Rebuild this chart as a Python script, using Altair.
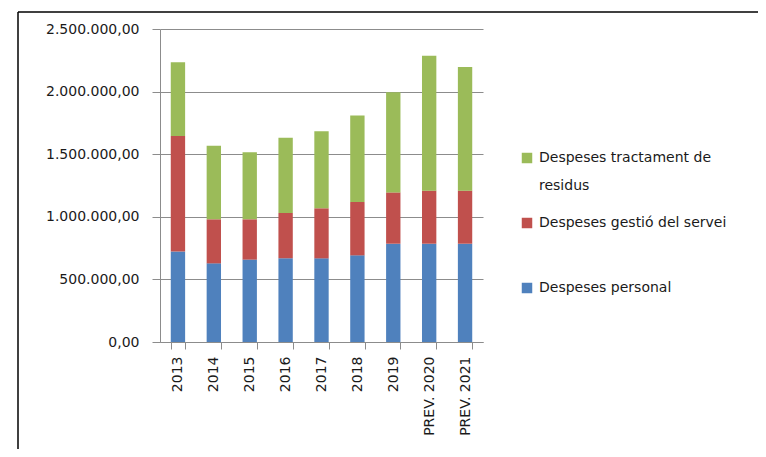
import altair as alt
import pandas as pd

years = ["2013", "2014", "2015", "2016", "2017", "2018", "2019", "PREV. 2020", "PREV. 2021"]
personal = [722000, 628000, 658000, 668000, 668000, 692000, 785000, 785000, 785000]
gestio = [923000, 352000, 322000, 362000, 400000, 426000, 410000, 424000, 424000]
tractament = [589000, 588000, 535000, 602000, 615000, 692000, 799000, 1078000, 987000]
series = ["Despeses personal", "Despeses gestió del servei", "Despeses tractament de residus"]
colors = ["#4F81BD", "#C0504D", "#9BBB59"]
y_ticks = [0, 500000, 1000000, 1500000, 2000000, 2500000]

rows = []
for i, yr in enumerate(years):
    for k, (name, vals) in enumerate(zip(series, [personal, gestio, tractament])):
        rows.append({"any": yr, "serie": name, "valor": vals[i], "ordre": k})
df = pd.DataFrame(rows)

FONT = "DejaVu Sans"
GRID = "#8c8c8c"
TXT = "#1a1a1a"

label_expr = ("datum.label == 'Despeses tractament de residus' ? ['Despeses tractament de', 'residus'] : "
              "datum.label == 'Despeses gestió del servei' ? ['Despeses gestió del servei', ''] : datum.label")

bars = alt.Chart(df).mark_bar().encode(
    x=alt.X("any:N", sort=years,
            scale=alt.Scale(paddingInner=0.6, paddingOuter=0.3),
            axis=alt.Axis(title=None, labelAngle=-90, tickBand="extent", grid=False,
                          domainColor=GRID, tickColor=GRID, tickSize=7, labelPadding=7,
                          labelFont=FONT, labelFontSize=14, labelColor=TXT)),
    y=alt.Y("valor:Q", stack="zero",
            scale=alt.Scale(domain=[0, 2500000], nice=False),
            axis=alt.Axis(title=None, values=y_ticks, format=",.2f", grid=True,
                          gridColor=GRID, domainColor=GRID, tickColor=GRID, tickSize=8,
                          labelPadding=13, labelFont=FONT, labelFontSize=14, labelColor=TXT)),
    color=alt.Color("serie:N",
                    scale=alt.Scale(domain=series[::-1], range=colors[::-1]),
                    legend=alt.Legend(title=None, orient="none", legendX=360, legendY=122,
                                      symbolType="square", symbolSize=110, symbolStrokeWidth=0,
                                      labelFont=FONT, labelFontSize=14, labelColor=TXT,
                                      labelLimit=300, labelOffset=5, rowPadding=23, padding=0,
                                      labelExpr=label_expr)),
    order=alt.Order("ordre:Q"),
)

frame = pd.DataFrame({"a": [0]})
top_line = alt.Chart(frame).mark_rule(color="black", strokeWidth=1.5).encode(
    x=alt.value(-142), x2=alt.value(620), y=alt.value(-17))
left_line = alt.Chart(frame).mark_rule(color="black", strokeWidth=1.5).encode(
    x=alt.value(-142), y=alt.value(-17), y2=alt.value(460))

chart = alt.layer(bars, top_line, left_line).properties(
    width=323, height=313,
    padding={"left": 152, "top": 21, "right": 275, "bottom": 107},
    autosize=alt.AutoSizeParams(type="none"),
).configure(
    locale={"number": {"decimal": ",", "thousands": ".", "grouping": [3], "currency": ["", "€"]}},
    style={"guide-label": {"lineHeight": 28}},
    view={"stroke": "transparent", "strokeWidth": 0},
)

chart.save("out.html", embed_options={"renderer": "svg", "actions": False})
